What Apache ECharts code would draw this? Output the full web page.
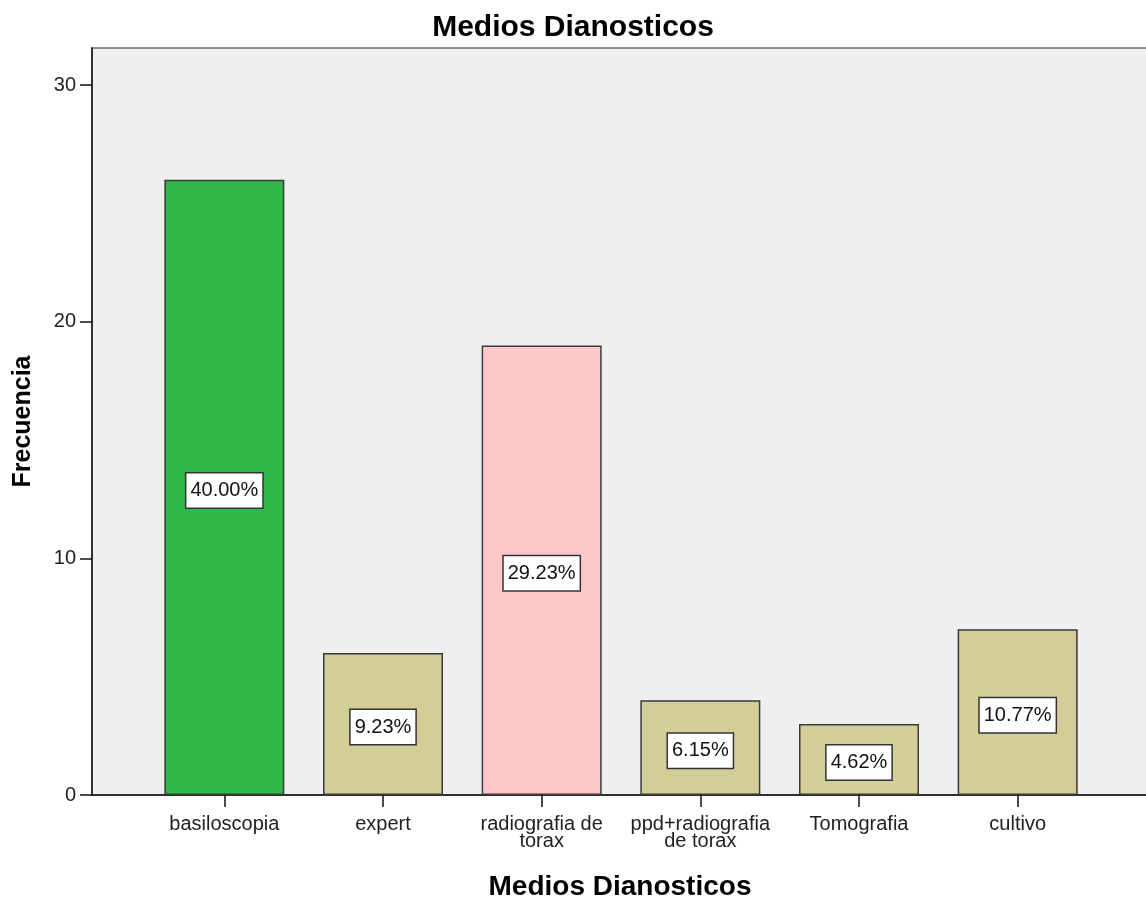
<!DOCTYPE html>
<html>
<head>
<meta charset="utf-8">
<title>Medios Dianosticos</title>
<script src="https://cdn.jsdelivr.net/npm/echarts@6/dist/echarts.min.js"></script>
<style>
  html, body { margin: 0; padding: 0; background: #ffffff; }
  #chart { width: 1146px; height: 902px; }
</style>
</head>
<body>
<div id="chart"></div>
<script>
// Diagnostic methods and their frequencies
const categories = ['basiloscopia', 'expert', 'radiografia de\ntorax', 'ppd+radiografia\nde torax', 'Tomografia', 'cultivo'];
const frequencies = [26, 6, 19, 4, 3, 7];
const barColors = ['#2eb84a', '#d3ce97', '#ffc8c8', '#d3ce97', '#d3ce97', '#d3ce97'];
const yTicks = [0, 10, 20, 30];

const total = frequencies.reduce((a, b) => a + b, 0);
const FONT = 'Arial, "Liberation Sans", sans-serif';
const Y_MAX = 31.57;

const chart = echarts.init(document.getElementById('chart'));

chart.setOption({
  backgroundColor: '#ffffff',
  animation: false,
  title: {
    text: 'Medios Dianosticos',
    left: 'center',
    top: 8,
    textStyle: { fontFamily: FONT, fontSize: 30, fontWeight: 'bold', color: '#000' }
  },
  grid: [
    // frame: shaded plot area with the axes
    { left: 92, right: -2, top: 48, bottom: 107, show: true, outerBoundsMode: 'none',
      backgroundColor: '#efefef', borderColor: '#8c8c8c', borderWidth: 2 },
    // bar band area
    { left: 145, width: 952, top: 48, bottom: 107, outerBoundsMode: 'none' }
  ],
  xAxis: [
    {
      gridIndex: 0, type: 'value', min: 0, max: 1,
      axisLine: { show: true, lineStyle: { color: '#111', width: 1.5 } },
      axisTick: { show: false }, axisLabel: { show: false }, splitLine: { show: false },
      name: 'Medios Dianosticos', nameLocation: 'middle', nameGap: 78,
      nameTextStyle: { fontFamily: FONT, fontSize: 28, fontWeight: 'bold', color: '#000' }
    },
    {
      gridIndex: 1, type: 'category', data: categories,
      axisLine: { show: false },
      axisTick: { show: true, alignWithLabel: true, length: 12, lineStyle: { color: '#111', width: 1.5 } },
      axisLabel: { fontFamily: FONT, fontSize: 20, color: '#222', lineHeight: 17, margin: 21, interval: 0 }
    }
  ],
  yAxis: [
    {
      gridIndex: 0, type: 'value', min: 0, max: Y_MAX,
      axisLine: { show: true, lineStyle: { color: '#111', width: 1.5 } },
      axisTick: { show: true, length: 12, customValues: yTicks, lineStyle: { color: '#111', width: 1.5 } },
      axisLabel: { fontFamily: FONT, fontSize: 20, color: '#222', margin: 16, customValues: yTicks },
      splitLine: { show: false },
      name: 'Frecuencia', nameLocation: 'middle', nameGap: 56,
      nameTextStyle: { fontFamily: FONT, fontSize: 25, fontWeight: 'bold', color: '#000' }
    },
    {
      gridIndex: 1, type: 'value', min: 0, max: Y_MAX, show: false
    }
  ],
  series: [
    {
      type: 'bar',
      xAxisIndex: 1, yAxisIndex: 1,
      barWidth: 120,
      data: frequencies.map((v, i) => ({
        value: v,
        itemStyle: { color: barColors[i] }
      })),
      itemStyle: { borderColor: '#3a3a3a', borderWidth: 1.5 },
      label: {
        show: true,
        position: 'inside',
        offset: [0, 3],
        formatter: p => (p.value / total * 100).toFixed(2) + '%',
        fontFamily: FONT, fontSize: 20, color: '#111', lineHeight: 20,
        backgroundColor: '#ffffff', borderColor: '#333', borderWidth: 1.5,
        padding: [7, 4]
      }
    }
  ]
});
</script>
</body>
</html>
